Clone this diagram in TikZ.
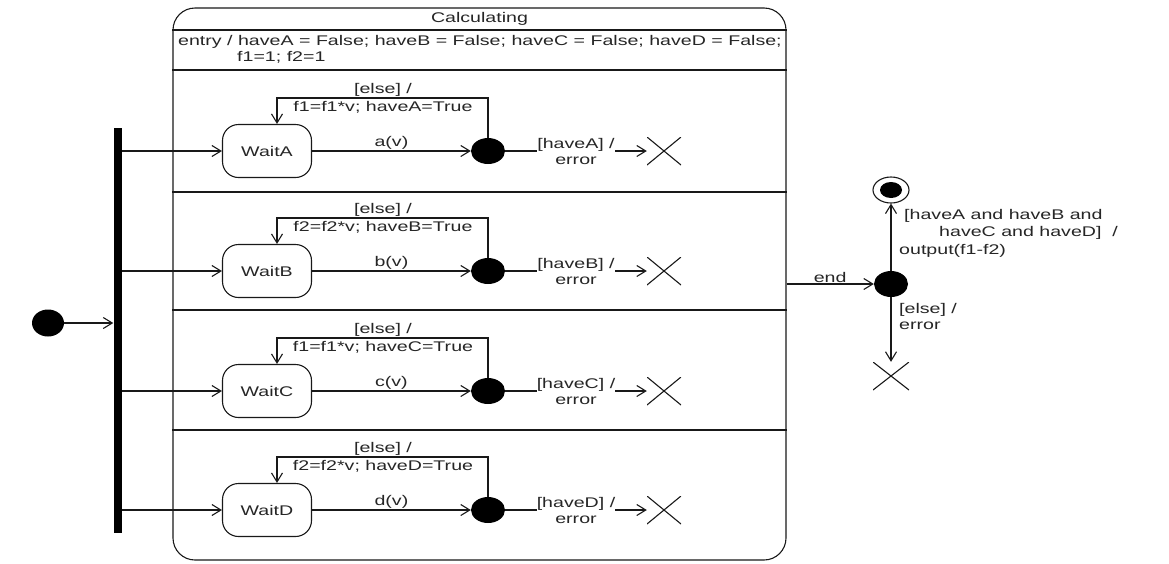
\documentclass[tikz,border=0pt]{standalone}
\usepackage{fontspec}
\setmainfont{Liberation Sans}[FakeStretch=1.4]
\usetikzlibrary{arrows.meta,shapes.geometric}
\begin{document}
\begin{tikzpicture}[x=1pt,y=-1pt, font=\fontsize{14}{16}\selectfont,
 conn/.style={line width=1.1pt, draw=black!90},
 arr/.style={conn, -{Straight Barb[length=9pt,width=11pt,line width=1.1pt]}},
 waitbox/.style={draw=black!90, line width=1.1pt, rounded corners=16pt, minimum width=89pt, minimum height=53pt, inner sep=0pt, text=black!85},
 choice/.style={ellipse, fill=black, minimum width=34pt, minimum height=26pt, inner sep=0pt},
 term/.style={minimum width=34pt, minimum height=28pt, inner sep=0pt,
   path picture={\draw[line width=1.1pt, black!90] (path picture bounding box.south west) -- (path picture bounding box.north east) (path picture bounding box.north west) -- (path picture bounding box.south east);}},
 lbl/.style={inner sep=1pt, text=black!85},
]
\fill[white] (0,0) rectangle (1169,563);
\useasboundingbox (0,0) rectangle (1169,563);

% composite state
\node[draw=black!90, line width=1.1pt, rounded corners=22pt, minimum width=613pt, minimum height=552pt, inner sep=0pt] (calc) at (479.5,284) {};
\node[lbl] (title) at (479.5,19) {Calculating};
\node[lbl, anchor=west] (entry1) at (177,42) {entry / haveA = False; haveB = False; haveC = False; haveD = False;};
\node[lbl, anchor=west] (entry2) at (236,57) {f1=1; f2=1};
\foreach \yy in {30,70,192,310,430}{
  \draw[conn] (calc.west |- 0,\yy) -- (calc.east |- 0,\yy);
}

% initial + fork
\node[fill=black, minimum width=8pt, minimum height=405pt, inner sep=0pt] (bar) at (117.5,330.5) {};
\node[choice, minimum width=32pt, minimum height=27pt] (init) at (48,323) {};
\draw[arr] (init) -- (init -| bar.west);

% regions
\foreach \L/\y/\f/\ev in {A/151/f1/a, B/271/f2/b, C/391/f1/c, D/510/f2/d}{
  \node[waitbox] (wait\L) at (267,\y) {Wait\L};
  \node[choice] (ch\L) at (488,\y) {};
  \node[term] (x\L) at (664,\y) {};
  \coordinate (lt\L) at (277,{\y-53});
  \draw[arr] (bar.east |- wait\L) -- (wait\L);
  \draw[arr] (wait\L) -- node[lbl, above] {\ev(v)} (ch\L);
  \draw[arr] (ch\L) -- node[lbl, fill=white, align=center, inner sep=0pt] {[have\L] /\\error} (x\L);
  \draw[arr] (ch\L.north) |- (lt\L) -- (lt\L |- wait\L.north);
  \node[lbl] (else\L) at (383,{\y-61}) {[else] /};
  \node[lbl] (act\L) at (383,{\y-44}) {\f=\f*v; have\L=True};
}

% end handling
\node[choice] (endch) at (891,284) {};
\node[draw=black!90, ellipse, line width=1.1pt, minimum width=36pt, minimum height=26pt, inner sep=0pt] (final) at (891,190) {};
\node[ellipse, fill=black, minimum width=22pt, minimum height=16pt, inner sep=0pt] (finaldot) at (final) {};
\node[term, minimum width=36pt, minimum height=28pt] (xend) at (891,376) {};
\draw[arr] (calc.east) -- node[lbl, above] {end} (endch);
\draw[arr] (endch) -- (final);
\draw[arr] (endch) -- (xend);
\node[lbl, anchor=west] (g1) at (903,216) {[haveA and haveB and};
\node[lbl, anchor=west] (g2) at (938,233) {haveC and haveD]\ \ /};
\node[lbl, anchor=west] (g3) at (898,251) {output(f1-f2)};
\node[lbl, anchor=west] (e1) at (898,310) {[else] /};
\node[lbl, anchor=west] (e2) at (898,326) {error};
\end{tikzpicture}
\end{document}
